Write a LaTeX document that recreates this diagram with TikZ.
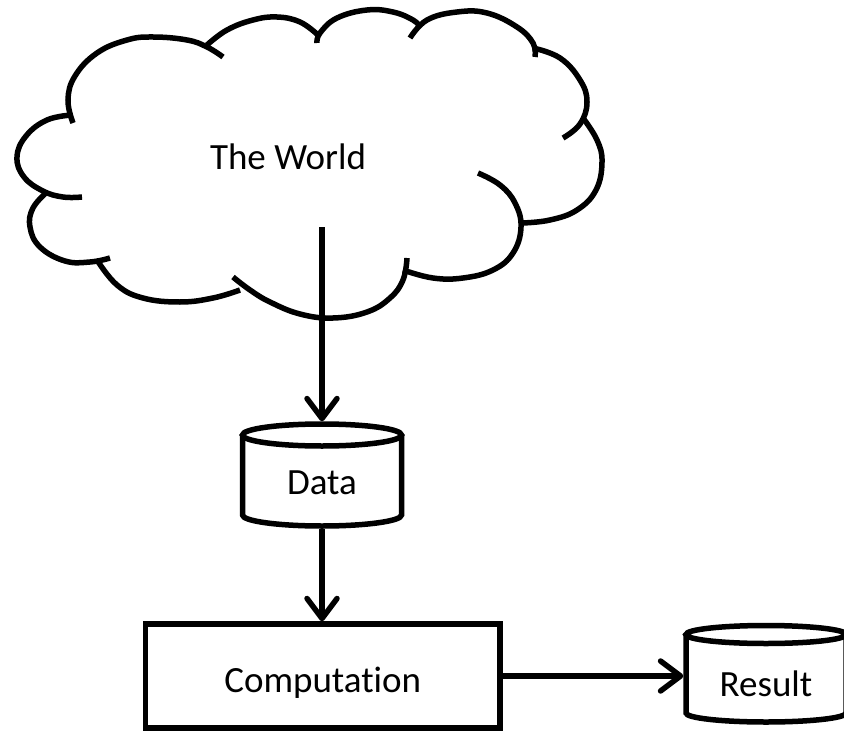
\documentclass[tikz,border=0pt]{standalone}
\usepackage{fontspec}
\setmainfont{Carlito}[Ligatures=NoCommon]
\usetikzlibrary{arrows.meta,calc}
\begin{document}
\begin{tikzpicture}[x=1bp,y=-1bp,
  ln/.style={line width=5.5bp, black},
  lbl/.style={font=\fontsize{37bp}{44bp}\selectfont, inner sep=0pt},
  arr/.style={ln, -{Straight Barb[length=20bp,width=30bp,round]}},
  ]
\useasboundingbox (0,0) rectangle (844,731);
% cloud
\draw[ln] plot[smooth,tension=0.7] coordinates {(73,123) (68,100) (75,76) (97,53) (127,40) (153,37) (187,40) (207,47) (223,57)};
\draw[ln] plot[smooth,tension=0.7] coordinates {(207,45) (227,30) (253,20) (277,17) (300,22) (318,35)};
\draw[ln] plot[smooth,tension=0.7] coordinates {(317,43) (320,33) (337,18) (367,10) (393,12) (413,20) (420,27)};
\draw[ln] plot[smooth,tension=0.7] coordinates {(410,38) (427,20) (457,12) (487,13) (517,27) (533,43) (535,57)};
\draw[ln] plot[smooth,tension=0.7] coordinates {(533,48) (560,58) (580,80) (587,102) (580,124) (563,138)};
\draw[ln] plot[smooth,tension=0.7] coordinates {(583,118) (597,140) (602,162) (596,190) (577,210) (550,220) (522,223)};
\draw[ln] plot[smooth,tension=0.7] coordinates {(478,173) (500,185) (515,203) (521,227) (513,253) (493,270) (463,278) (433,278) (403,270)};
\draw[ln] plot[smooth,tension=0.7] coordinates {(407,258) (403,280) (390,298) (367,312) (333,318) (300,314) (270,302) (250,290) (233,277)};
\draw[ln] plot[smooth,tension=0.7] coordinates {(240,290) (213,298) (180,302) (143,298) (117,285) (97,260)};
\draw[ln] plot[smooth,tension=0.7] coordinates {(47,192) (33,208) (30,227) (40,247) (65,261) (90,262) (110,258)};
\draw[ln] plot[smooth,tension=0.7] coordinates {(72,115) (47,120) (26,136) (17,157) (24,177) (43,191) (63,197) (82,197)};
\node[lbl] (world) at (288,157) {The World};
\coordinate (worldout) at (322,227);
% data cylinder
\node[lbl, minimum width=164bp, minimum height=107bp, text height=39bp, text depth=0pt] (data) at (322,475) {Data};
\draw[ln] (242.5,435) -- (242.5,515) arc[start angle=180,end angle=360,x radius=79.5bp,y radius=11bp] -- (401.5,435);
\draw[ln] (322,435) ellipse[x radius=79.5bp,y radius=11bp];
% computation
\node[lbl, draw, line width=5.5bp, minimum width=354.5bp, minimum height=104bp, text height=33bp, text depth=0pt] (comp) at (322.75,676) {Computation};
% result cylinder
\node[lbl, minimum width=165bp, minimum height=101.5bp, text height=45bp, text depth=0pt] (result) at (766,673.75) {Result};
\draw[ln] (686,634.5) -- (686,713) arc[start angle=180,end angle=360,x radius=80bp,y radius=9bp] -- (846,634.5);
\draw[ln] (766,634.5) ellipse[x radius=80bp,y radius=9bp];
% arrows
\draw[arr] (worldout) -- (data.north);
\draw[arr] (data.south) -- (data.south |- comp.north);
\draw[arr] (comp.east) -- (comp.east -| result.west);
\end{tikzpicture}
\end{document}
